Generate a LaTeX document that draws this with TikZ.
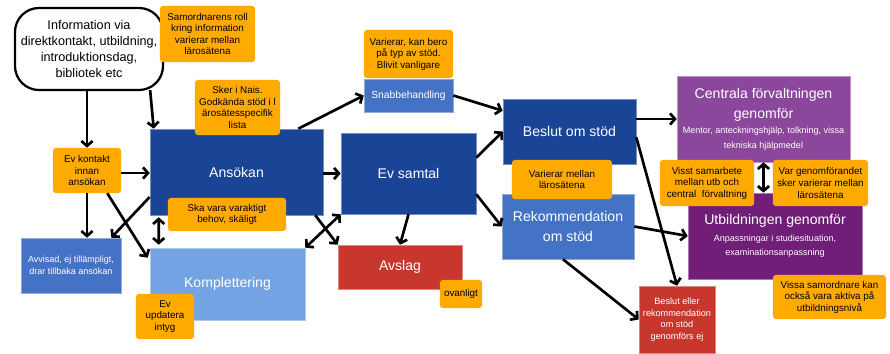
\documentclass[tikz,border=0pt]{standalone}
\usepackage{fontspec}
\setmainfont{Liberation Sans}
\usepackage{tikz}
\usepackage{xcolor}
\usetikzlibrary{arrows.meta,calc}

\definecolor{darkblue}{RGB}{26,69,151}
\definecolor{midblue}{RGB}{68,114,196}
\definecolor{lightblue}{RGB}{115,163,227}
\definecolor{noteorange}{RGB}{255,170,0}
\definecolor{avslagred}{RGB}{200,55,45}
\definecolor{lightpurple}{RGB}{139,71,155}
\definecolor{darkpurple}{RGB}{112,30,120}

\tikzstyle{arrow} = [line width=1.9pt, -{Straight Barb[length=3.5pt,width=8pt]}]
\tikzstyle{darrow} = [line width=1.9pt, {Straight Barb[length=3.5pt,width=8pt]}-{Straight Barb[length=3.5pt,width=8pt]}]
\tikzstyle{infobox} = [draw, line width=1.6pt, rounded corners=0.6cm, align=center, inner sep=0pt, font=\fontsize{9}{11.4}\selectfont]
\tikzstyle{note} = [fill=noteorange, rounded corners=2pt, align=center, inner sep=1pt, font=\fontsize{7}{8.2}\selectfont]
\tikzstyle{stepbox} = [text=white, align=center, inner sep=1pt, line width=0.4pt, font=\fontsize{10}{14.2}\selectfont]
\tikzstyle{smalltext} = [font=\fontsize{6.4}{8.3}\selectfont]

\begin{document}
\begin{tikzpicture}[x=0.025cm, y=-0.025cm]
        \useasboundingbox (0,0) rectangle (890,354);

        % Boxes
        \node[infobox, minimum width=3.7cm, minimum height=2.05cm] (info) at (89,49)
            {Information via\\direktkontakt, utbildning,\\introduktionsdag,\\bibliotek etc};
        \node[stepbox, fill=darkblue, draw=darkblue!60!white, minimum width=4.325cm, minimum height=2.15cm] (ansokan) at (236.5,172) {Ansökan};
        \node[stepbox, fill=midblue, draw=midblue!60!white, minimum width=2.5cm, minimum height=1.375cm, smalltext] (avvisad) at (71,265.5)
            {Avvisad, ej tillämpligt,\\drar tillbaka ansökan};
        \node[stepbox, fill=lightblue, draw=lightblue!60!white, minimum width=3.875cm, minimum height=1.8cm] (komplettering) at (227.5,284) {Komplettering};
        \node[stepbox, fill=midblue, draw=midblue!60!white, minimum width=2.225cm, minimum height=0.825cm, font=\fontsize{7.3}{8.5}\selectfont] (snabb) at (408.5,95.5) {Snabbehandling};
        \node[stepbox, fill=darkblue, draw=darkblue!60!white, minimum width=3.375cm, minimum height=2.025cm] (samtal) at (408.5,173.5) {Ev samtal};
        \node[stepbox, fill=avslagred, draw=avslagred!60!white, minimum width=3.1cm, minimum height=1.1cm] (avslag) at (400,267) {Avslag};
        \node[stepbox, fill=darkblue, draw=darkblue!60!white, minimum width=3.325cm, minimum height=1.625cm] (beslut) at (569.5,131.5) {Beslut om stöd};
        \node[stepbox, fill=midblue, draw=midblue!60!white, minimum width=3.3cm, minimum height=1.625cm] (rekom) at (568,226.5) {Rekommendation\\om stöd};
        \node[stepbox, fill=avslagred, draw=avslagred!60!white, minimum width=1.9cm, minimum height=1.675cm, font=\fontsize{6.5}{8.3}\selectfont] (ejgenomfors) at (677,319.5)
            {Beslut eller\\rekommendation\\om stöd\\genomförs ej};
        \node[stepbox, fill=lightpurple, draw=lightpurple!60!white, minimum width=4.325cm, minimum height=2.15cm] (centrala) at (763.5,119)
            {Centrala förvaltningen\\genomför\\[-3pt]{\fontsize{6.4}{8.3}\selectfont Mentor, anteckningshjälp, tolkning, vissa}\\[-4pt]{\fontsize{6.4}{8.3}\selectfont tekniska hjälpmedel}};
        \node[stepbox, fill=darkpurple, draw=darkpurple!60!white, minimum width=4.35cm, minimum height=2.15cm] (utb) at (775,236)
            {Utbildningen genomför\\[-2pt]{\fontsize{6.4}{8.3}\selectfont Anpassningar i studiesituation,}\\[-4pt]{\fontsize{6.4}{8.3}\selectfont examinationsanpassning}};

        % Notes
        \node[note, minimum width=2.375cm, minimum height=1.4cm] (samordn) at (207.5,34)
            {Samordnarens roll\\kring information\\varierar mellan\\lärosätena};
        \node[note, minimum width=2.125cm, minimum height=1.375cm] (nais) at (237.5,107.5)
            {Sker i Nais.\\Godkända stöd i l\\ärosätesspecifik\\lista};
        \node[note, minimum width=1.7cm, minimum height=1.125cm] (kontakt) at (87,170.5)
            {Ev kontakt\\innan\\ansökan};
        \node[note, minimum width=2.95cm, minimum height=0.825cm] (varaktigt) at (227,214.5)
            {Ska vara varaktigt\\behov, skäligt};
        \node[note, minimum width=1.45cm, minimum height=1.125cm] (intyg) at (165,316.5)
            {Ev\\updatera\\intyg};
        \node[note, minimum width=2.225cm, minimum height=1.2cm] (bero) at (408.5,54)
            {Varierar, kan bero\\på typ av stöd.\\Blivit vanligare};
        \node[note, minimum width=1.05cm, minimum height=0.7cm] (ovanligt) at (461,294) {ovanligt};
        \node[note, minimum width=2.5cm, minimum height=0.975cm] (mellan) at (562,179.5)
            {Varierar mellan\\lärosätena};
        \node[note, minimum width=2.35cm, minimum height=1.15cm] (samarb) at (707,183)
            {Visst samarbete\\mellan utb och\\central~~förvaltning};
        \node[note, minimum width=2.375cm, minimum height=1.15cm] (varierar) at (820.5,183)
            {Var genomförandet\\sker varierar mellan\\lärosätena};
        \node[note, minimum width=2.825cm, minimum height=1.1cm] (vissa) at (829.5,297)
            {Vissa samordnare kan\\också vara aktiva på\\utbildningsnivå};

        % Draw Arrows
        \draw[arrow] (info.south -| kontakt.north) -- (kontakt.north);
        \draw[arrow] ($(info.south east)+(-14,-1)$) -- ($(ansokan.north west)+(4,0)$);
        \draw[arrow] (kontakt.east |- 0,173) -- (ansokan.west |- 0,173);
        \draw[arrow] (kontakt.south) -- (kontakt.south |- avvisad.north);
        \draw[arrow] ($(kontakt.south east)+(-14,0)$) -- ($(komplettering.north west)+(-2,10)$);
        \draw[arrow] ($(ansokan.west)+(0,25)$) -- ($(avvisad.north east)+(-10,0)$);
        \draw[darrow] ($(ansokan.south west)+(9,2)$) -- ($(komplettering.north west)+(9,-3)$);

        \draw[arrow] (ansokan.east |- samtal.west) -- (samtal.west);
        \draw[arrow] ($(ansokan.north east)+(-25,0)$) -- (snabb.west);
        \draw[arrow] ($(ansokan.south east)+(-8,0)$) -- (avslag.north west);
        \draw[darrow] (komplettering.north east) -- (samtal.south west);

        \draw[arrow] (snabb.east) -- ($(beslut.north west)+(0,12)$);
        \draw[arrow] ($(samtal.north east)+(0,25)$) -- (beslut.west);
        \draw[arrow] ($(samtal.south east)+(0,-20)$) -- (rekom.west);
        \draw[arrow] (samtal.south) -- (avslag.north);

        \draw[arrow] (centrala.west -| beslut.east) -- (centrala.west);
        \draw[arrow] ($(beslut.south east)+(0,-27)$) -- (ejgenomfors.north);
        \draw[arrow] (rekom.east) -- (utb.west);
        \draw[arrow] ($(rekom.south)+(-5,0)$) -- (ejgenomfors.west);

        \draw[darrow] (centrala.south) -- (centrala.south |- utb.north);

    \end{tikzpicture}
\end{document}
